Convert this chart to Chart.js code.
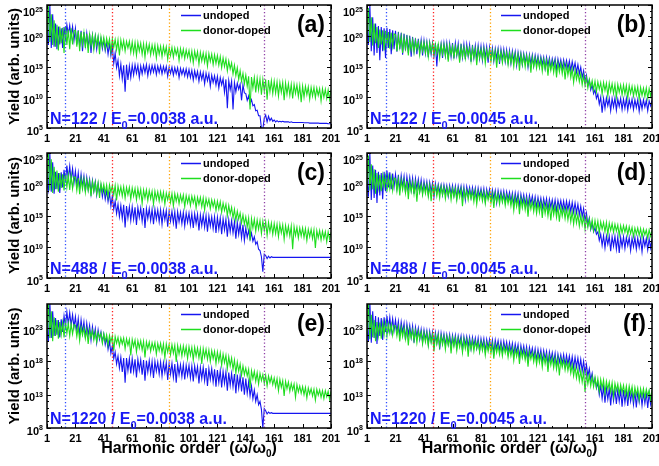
<!DOCTYPE html>
<html>
<head>
<meta charset="utf-8">
<script src="https://cdn.jsdelivr.net/npm/chart.js@4.4.1/dist/chart.umd.min.js"></script>
<style>
  html, body { margin: 0; padding: 0; background: #fff; }
  #wrap { position: relative; width: 659px; height: 466px; overflow: hidden; }
  canvas { position: absolute; }
</style>
</head>
<body>
<div id="wrap">
  <canvas id="pa" width="345" height="150" style="left:0;top:0"></canvas>
  <canvas id="pb" width="326" height="150" style="left:333px;top:0"></canvas>
  <canvas id="pc" width="345" height="154" style="left:0;top:146px"></canvas>
  <canvas id="pd" width="326" height="154" style="left:333px;top:146px"></canvas>
  <canvas id="pe" width="345" height="168" style="left:0;top:298px"></canvas>
  <canvas id="pf" width="326" height="168" style="left:333px;top:298px"></canvas>
</div>
<script>
// harmonic orders 1..201 (x categories)
var harmonics = Array.from({length: 201}, function (_, i) { return i + 1; });
var xTickLabels = [1, 21, 41, 61, 81, 101, 121, 141, 161, 181, 201];
var xMinorTicks = [11, 31, 51, 71, 91, 111, 131, 151, 171, 191];

// cutoff markers (harmonic order) and their colours
var cutoffs = [14, 47, 87, 154];
var cutoffColors = ['#2f4dff', '#ff2020', '#ffa000', '#8e3fa6'];

// y tick exponents
var yExpTop = [5, 10, 15, 20, 25];
var yExpBottom = [8, 13, 18, 23];

var panelLabels = ['(a)', '(b)', '(c)', '(d)', '(e)', '(f)'];
var panelN = ['122', '122', '488', '488', '1220', '1220'];
var panelE0 = ['0.0038', '0.0045', '0.0038', '0.0045', '0.0038', '0.0045'];
var seriesNames = ['undoped', 'donor-doped'];

// log10 of yield, one value per harmonic (1..201)
var logA_undoped = [
  20.0, 18.5, 25.0, 18.0, 23.5, 18.2, 22.0, 17.8, 21.5, 18.6, 21.2, 18.0, 21.4, 19.5, 21.8, 20.2, 21.7, 19.8, 21.5, 19.2,
  21.2, 18.6, 20.9, 18.2, 20.8, 17.5, 20.6, 18.4, 20.4, 18.0, 20.3, 17.2, 20.0, 18.1, 19.9, 17.8, 19.7, 18.3, 19.5, 17.9,
  19.3, 17.6, 19.0, 17.0, 18.7, 16.8, 18.3, 15.5, 17.2, 14.8, 16.0, 13.5, 15.4, 13.0, 15.2, 10.9, 15.3, 12.8, 15.1, 13.2,
  15.2, 13.6, 15.3, 13.9, 15.2, 13.2, 15.1, 13.8, 15.2, 14.0, 15.3, 13.5, 15.1, 13.9, 15.2, 14.1, 15.2, 13.7, 15.1, 14.0,
  15.1, 13.8, 15.0, 14.0, 15.0, 13.4, 14.9, 13.9, 14.9, 13.6, 14.8, 13.8, 14.8, 13.2, 14.7, 13.7, 14.6, 13.5, 14.6, 13.3,
  14.5, 13.2, 14.4, 12.8, 14.3, 13.1, 14.2, 12.6, 14.1, 12.9, 14.0, 12.2, 13.9, 12.7, 13.8, 11.8, 13.6, 12.4, 13.5, 12.0,
  13.4, 11.5, 13.2, 12.0, 13.0, 10.8, 12.9, 8.2, 12.7, 11.2, 12.6, 8.0, 12.4, 10.9, 12.3, 11.3, 12.1, 9.5, 12.0, 10.7,
  10.6, 9.5, 10.2, 9.0, 9.6, 8.6, 8.8, 7.8, 7.9, 7.0, 7.0, 5.0, 4.8, 6.6, 7.1, 6.0, 6.9, 6.2, 6.6, 6.1,
  6.3, 6.0, 6.2, 6.0, 6.1, 6.0, 6.1, 6.0, 6.0, 6.0, 6.0, 5.9, 6.0, 5.9, 5.9, 5.9, 5.9, 5.9, 5.9, 5.9,
  5.9, 5.85, 5.85, 5.85, 5.85, 5.8, 5.8, 5.8, 5.8, 5.8, 5.8, 5.8, 5.75, 5.75, 5.75, 5.75, 5.75, 5.75, 5.7, 5.7, 5.7
];
var logA_doped = [
  19.5, 24.8, 19.0, 23.5, 18.5, 22.5, 18.2, 21.8, 17.6, 21.5, 18.8, 21.3, 17.2, 21.4, 18.5, 21.0, 17.8, 21.2, 18.6, 20.8,
  20.9, 18.2, 20.8, 17.5, 20.6, 18.6, 20.5, 18.0, 20.3, 17.2, 20.2, 18.4, 20.1, 17.8, 20.0, 18.5, 19.9, 17.0, 19.8, 18.3,
  19.7, 17.9, 19.6, 18.3, 19.5, 17.4, 19.5, 18.1, 19.4, 17.7, 19.3, 16.8, 19.3, 17.9, 19.2, 17.5, 19.1, 18.0, 19.1, 17.3,
  19.0, 17.2, 18.9, 16.8, 18.9, 17.5, 18.8, 17.0, 18.7, 16.5, 18.7, 17.3, 18.6, 16.9, 18.5, 17.1, 18.5, 16.4, 18.4, 17.0,
  18.3, 16.6, 18.3, 17.0, 18.2, 16.2, 18.1, 16.8, 18.1, 16.5, 18.0, 16.9, 17.9, 16.0, 17.9, 16.6, 17.8, 16.3, 17.7, 16.5,
  17.6, 16.0, 17.5, 15.6, 17.5, 16.2, 17.4, 15.4, 17.3, 15.9, 17.2, 15.7, 17.1, 15.1, 17.1, 15.8, 17.0, 15.3, 16.9, 15.5,
  16.8, 15.2, 16.6, 14.8, 16.4, 15.0, 16.2, 14.3, 15.9, 14.6, 15.6, 13.8, 15.2, 13.5, 14.8, 12.9, 14.3, 12.6, 13.9, 12.2,
  13.6, 11.8, 13.4, 8.0, 13.3, 11.5, 13.2, 10.8, 13.1, 11.2, 13.0, 10.4, 12.9, 11.0, 12.9, 9.6, 12.8, 10.9, 12.7, 10.6,
  12.6, 10.7, 12.5, 10.2, 12.4, 10.8, 12.4, 9.5, 12.3, 10.5, 12.2, 10.3, 12.1, 9.8, 12.1, 10.6, 12.0, 10.1, 11.9, 9.2,
  11.8, 10.0, 11.8, 10.4, 11.7, 9.7, 11.6, 10.2, 11.6, 9.9, 11.5, 10.3, 11.4, 9.4, 11.4, 10.0, 11.3, 9.8, 11.2, 9.6, 11.2
];
var logB_undoped = [
  21.0, 18.5, 25.0, 17.5, 23.0, 16.8, 22.0, 17.2, 21.6, 16.0, 21.4, 17.5, 21.2, 16.4, 21.3, 18.0, 21.1, 17.0, 20.9, 17.8,
  20.8, 17.4, 20.6, 17.8, 20.5, 16.9, 20.3, 17.6, 20.1, 17.2, 20.0, 16.6, 19.8, 17.5, 19.6, 17.0, 19.5, 17.3, 19.3, 16.8,
  19.2, 17.1, 19.0, 16.5, 18.9, 17.0, 18.8, 16.7, 18.8, 15.0, 18.7, 16.9, 18.7, 16.4, 18.8, 16.8, 18.8, 16.2, 18.7, 16.6,
  18.8, 16.3, 18.8, 16.8, 18.7, 16.0, 18.7, 16.5, 18.6, 16.2, 18.6, 16.7, 18.5, 15.8, 18.5, 16.4, 18.4, 16.1, 18.4, 16.3,
  18.3, 16.0, 18.3, 16.4, 18.2, 15.6, 18.1, 16.2, 18.0, 15.9, 17.9, 16.3, 17.9, 15.4, 17.8, 16.0, 17.8, 15.8, 17.7, 15.7,
  17.6, 15.5, 17.5, 15.9, 17.4, 15.2, 17.3, 15.7, 17.2, 15.3, 17.1, 15.6, 17.0, 14.9, 16.9, 15.4, 16.9, 15.1, 16.8, 15.3,
  16.7, 15.0, 16.6, 15.3, 16.5, 14.7, 16.5, 15.1, 16.4, 14.8, 16.3, 15.2, 16.3, 14.5, 16.2, 14.9, 16.1, 14.6, 16.1, 14.8,
  16.0, 14.6, 15.9, 14.3, 15.8, 14.5, 15.6, 14.0, 15.3, 13.8, 14.9, 13.2, 14.3, 12.6, 13.6, 12.0, 12.8, 11.2, 12.0, 10.6,
  11.2, 9.8, 10.5, 8.9, 10.0, 7.5, 9.8, 8.2, 9.9, 8.6, 9.8, 7.8, 9.8, 8.4, 9.9, 7.9, 9.7, 8.5, 9.8, 8.0,
  9.7, 8.2, 9.8, 7.9, 9.6, 8.4, 9.7, 8.0, 9.6, 8.3, 9.6, 7.7, 9.5, 8.1, 9.6, 8.4, 9.5, 7.8, 9.4, 8.6, 9.5
];
var logB_doped = [
  20.0, 24.5, 19.0, 23.0, 18.4, 22.0, 18.8, 21.4, 18.0, 21.0, 18.6, 20.9, 17.6, 20.8, 18.5, 20.6, 17.9, 20.5, 18.3, 20.3,
  20.2, 17.5, 20.0, 18.1, 19.9, 17.2, 19.7, 17.9, 19.6, 16.8, 19.4, 17.7, 19.3, 17.3, 19.2, 17.8, 19.0, 16.9, 18.9, 17.5,
  18.9, 17.2, 18.8, 16.6, 18.8, 17.3, 18.7, 16.9, 18.6, 17.1, 18.6, 16.4, 18.5, 17.0, 18.5, 16.7, 18.4, 15.8, 18.4, 16.9,
  18.3, 16.5, 18.3, 16.9, 18.2, 15.6, 18.2, 16.6, 18.1, 16.3, 18.1, 16.8, 18.0, 15.9, 18.0, 16.5, 17.9, 15.2, 17.9, 16.4,
  17.8, 16.2, 17.8, 15.5, 17.7, 16.4, 17.7, 15.9, 17.6, 16.1, 17.5, 14.8, 17.5, 16.0, 17.4, 15.6, 17.3, 15.9, 17.3, 15.3,
  17.2, 15.6, 17.1, 15.0, 17.0, 15.5, 16.9, 14.3, 16.9, 15.3, 16.8, 14.9, 16.7, 15.2, 16.6, 14.0, 16.5, 15.0, 16.4, 14.7,
  16.3, 14.8, 16.2, 14.2, 16.1, 14.6, 16.0, 13.5, 15.9, 14.4, 15.8, 14.0, 15.7, 13.2, 15.6, 14.1, 15.5, 13.8, 15.4, 12.9,
  15.2, 13.6, 15.0, 13.2, 14.7, 12.4, 14.4, 12.9, 14.1, 12.5, 13.8, 12.0, 13.5, 11.9, 13.2, 11.5, 12.9, 11.6, 12.7, 11.2,
  12.6, 10.9, 12.5, 11.3, 12.4, 10.5, 12.4, 11.1, 12.3, 10.2, 12.3, 10.9, 12.2, 10.6, 12.1, 10.0, 12.1, 10.8, 12.0, 10.4,
  12.0, 10.5, 11.9, 9.9, 11.9, 10.6, 11.8, 10.2, 11.7, 10.4, 11.7, 9.7, 11.6, 10.3, 11.5, 10.1, 11.5, 9.8, 11.4, 10.2, 11.4
];
var logC_undoped = [
  20.0, 19.0, 25.0, 18.8, 23.5, 18.5, 22.0, 19.2, 21.8, 18.6, 21.9, 19.5, 22.3, 20.3, 23.0, 20.8, 22.9, 20.6, 22.5, 20.2,
  22.1, 19.8, 21.8, 19.3, 21.6, 19.6, 21.3, 18.9, 21.1, 19.2, 20.8, 18.5, 20.6, 18.9, 20.4, 18.3, 20.1, 18.6, 19.8, 18.0,
  19.4, 17.6, 19.0, 17.2, 18.6, 16.5, 18.1, 16.0, 17.3, 15.3, 16.8, 14.8, 16.6, 14.5, 16.7, 13.1, 16.5, 14.6, 16.4, 14.2,
  16.4, 14.4, 16.3, 13.5, 16.3, 14.7, 16.2, 14.1, 16.2, 13.0, 16.1, 14.5, 16.1, 14.2, 16.0, 13.6, 16.0, 14.4, 15.9, 14.0,
  15.9, 13.6, 15.8, 14.3, 15.8, 13.2, 15.7, 14.1, 15.7, 13.8, 15.6, 12.9, 15.6, 14.0, 15.5, 13.7, 15.5, 13.3, 15.4, 13.9,
  15.4, 13.5, 15.3, 13.0, 15.3, 13.7, 15.2, 12.6, 15.1, 13.4, 15.1, 13.1, 15.0, 12.4, 14.9, 13.3, 14.8, 12.9, 14.8, 12.2,
  14.7, 12.8, 14.6, 12.0, 14.5, 12.7, 14.4, 11.6, 14.3, 12.4, 14.2, 12.2, 14.0, 11.3, 13.9, 12.0, 13.7, 11.4, 13.5, 11.0,
  13.0, 11.5, 12.6, 11.2, 12.2, 10.9, 11.6, 10.4, 10.8, 9.6, 9.4, 8.4, 6.0, 8.8, 8.6, 8.1, 8.5, 8.2, 8.4, 8.3,
  8.3, 8.3, 8.3, 8.3, 8.3, 8.3, 8.3, 8.3, 8.3, 8.3, 8.3, 8.3, 8.3, 8.3, 8.3, 8.3, 8.3, 8.3, 8.3, 8.3,
  8.3, 8.3, 8.3, 8.3, 8.3, 8.3, 8.3, 8.3, 8.3, 8.3, 8.3, 8.3, 8.3, 8.3, 8.3, 8.3, 8.3, 8.3, 8.3, 8.3, 8.3
];
var logC_doped = [
  19.5, 25.0, 19.0, 24.0, 18.6, 22.8, 19.2, 22.2, 18.8, 21.8, 19.4, 21.6, 19.0, 21.7, 19.5, 21.5, 19.1, 21.4, 19.3, 21.2,
  21.1, 19.0, 21.0, 18.4, 20.9, 19.2, 20.8, 18.7, 20.7, 19.0, 20.5, 18.1, 20.4, 18.9, 20.3, 18.5, 20.2, 17.8, 20.1, 18.8,
  20.0, 18.5, 19.9, 18.0, 19.9, 18.7, 19.8, 18.3, 19.8, 17.4, 19.7, 18.4, 19.6, 18.1, 19.6, 17.8, 19.5, 18.3, 19.5, 17.6,
  19.4, 18.1, 19.3, 17.5, 19.3, 17.9, 19.2, 16.9, 19.1, 17.8, 19.1, 17.4, 19.0, 17.7, 18.9, 16.8, 18.9, 17.6, 18.8, 17.3,
  18.8, 17.4, 18.7, 16.8, 18.6, 17.5, 18.6, 17.1, 18.5, 16.5, 18.5, 17.3, 18.4, 16.9, 18.3, 17.2, 18.3, 16.4, 18.2, 17.0,
  18.1, 16.6, 18.1, 17.0, 18.0, 16.2, 17.9, 16.8, 17.9, 16.4, 17.8, 15.9, 17.7, 16.6, 17.6, 16.1, 17.5, 16.4, 17.4, 15.8,
  17.3, 16.0, 17.2, 15.5, 17.0, 15.8, 16.8, 15.0, 16.6, 15.2, 16.3, 14.6, 16.0, 14.2, 15.7, 14.4, 15.4, 13.8, 15.1, 13.6,
  14.8, 13.2, 14.6, 11.0, 14.5, 13.0, 14.4, 12.5, 14.3, 12.8, 14.2, 12.1, 14.1, 12.6, 14.0, 11.8, 13.9, 12.4, 13.8, 12.0,
  13.7, 12.1, 13.6, 11.6, 13.6, 12.2, 13.5, 11.2, 13.4, 11.9, 13.3, 11.7, 13.3, 9.6, 13.2, 11.8, 13.1, 11.4, 13.0, 11.7,
  13.0, 11.5, 12.9, 11.0, 12.8, 11.6, 12.8, 11.3, 12.7, 9.8, 12.6, 11.4, 12.6, 11.1, 12.5, 11.3, 12.4, 10.8, 12.4, 11.2, 12.3
];
var logD_undoped = [
  20.5, 18.0, 25.0, 17.5, 23.0, 17.8, 22.3, 17.0, 22.0, 18.2, 21.8, 17.6, 22.0, 18.9, 22.2, 19.5, 21.9, 19.2, 21.7, 19.6,
  21.6, 19.4, 21.5, 19.0, 21.4, 19.6, 21.3, 18.7, 21.2, 19.3, 21.1, 19.1, 21.0, 18.5, 20.9, 19.2, 20.8, 18.9, 20.7, 18.6,
  20.5, 18.9, 20.4, 18.4, 20.3, 18.8, 20.2, 18.0, 20.1, 18.6, 20.0, 18.7, 19.9, 18.3, 19.9, 18.5, 19.8, 18.1, 19.8, 18.4,
  19.8, 18.2, 19.7, 17.8, 19.7, 18.4, 19.7, 18.0, 19.6, 17.5, 19.6, 18.3, 19.5, 17.9, 19.5, 18.1, 19.4, 17.6, 19.4, 18.0,
  19.3, 17.8, 19.3, 17.3, 19.2, 17.9, 19.2, 17.5, 19.1, 17.7, 19.0, 17.0, 19.0, 17.6, 18.9, 17.4, 18.9, 17.2, 18.8, 17.5,
  18.7, 17.2, 18.6, 16.8, 18.6, 17.1, 18.5, 16.5, 18.4, 17.0, 18.3, 16.7, 18.2, 16.4, 18.2, 16.9, 18.1, 16.6, 18.0, 16.3,
  17.9, 16.5, 17.8, 16.1, 17.7, 16.4, 17.7, 15.8, 17.6, 16.3, 17.5, 16.0, 17.5, 15.7, 17.4, 16.2, 17.4, 15.9, 17.3, 15.8,
  17.3, 15.9, 17.2, 15.6, 17.1, 15.5, 17.0, 15.4, 16.8, 15.1, 16.5, 14.8, 16.1, 14.2, 15.4, 13.5, 14.6, 12.8, 13.8, 12.4,
  13.0, 12.0, 12.4, 11.0, 12.0, 10.2, 11.8, 9.8, 11.7, 10.4, 11.7, 9.3, 11.6, 10.1, 11.7, 9.6, 11.6, 9.0, 11.5, 10.0,
  11.6, 9.7, 11.5, 10.2, 11.5, 9.4, 11.4, 10.0, 11.5, 9.6, 11.4, 9.9, 11.3, 9.2, 11.4, 10.1, 11.3, 9.5, 11.3, 9.8, 11.2
];
var logD_doped = [
  19.8, 24.6, 19.0, 23.2, 19.2, 22.4, 18.5, 21.8, 19.4, 21.5, 18.9, 21.4, 19.6, 21.3, 18.8, 21.2, 19.3, 21.1, 19.0, 21.0,
  20.9, 18.9, 20.8, 18.2, 20.7, 19.1, 20.6, 18.6, 20.5, 17.6, 20.4, 18.8, 20.3, 18.4, 20.2, 17.2, 20.1, 18.7, 20.0, 18.3,
  19.9, 18.5, 19.9, 18.0, 19.8, 17.3, 19.7, 18.4, 19.7, 18.1, 19.6, 17.8, 19.6, 18.3, 19.5, 17.7, 19.4, 18.2, 19.4, 17.5,
  19.3, 18.0, 19.3, 17.4, 19.2, 17.9, 19.2, 16.5, 19.1, 17.8, 19.0, 17.5, 19.0, 17.7, 18.9, 17.2, 18.9, 16.8, 18.8, 17.6,
  18.8, 17.3, 18.7, 16.9, 18.7, 17.5, 18.6, 17.0, 18.5, 16.2, 18.5, 17.2, 18.4, 16.8, 18.4, 17.1, 18.3, 16.6, 18.2, 16.9,
  18.1, 16.5, 18.0, 15.8, 17.9, 16.4, 17.8, 15.2, 17.7, 16.2, 17.6, 15.9, 17.5, 14.8, 17.4, 16.0, 17.3, 15.6, 17.2, 15.3,
  17.1, 15.5, 17.0, 14.6, 16.9, 15.3, 16.8, 14.9, 16.7, 14.2, 16.6, 15.1, 16.5, 14.7, 16.4, 14.0, 16.3, 14.9, 16.2, 14.5,
  16.1, 14.3, 15.9, 14.0, 15.7, 13.6, 15.5, 13.8, 15.2, 13.3, 15.0, 13.5, 14.8, 12.8, 14.6, 13.1, 14.4, 12.9, 14.3, 12.6,
  14.2, 12.7, 14.1, 12.2, 14.0, 12.8, 13.9, 12.4, 13.9, 11.9, 13.8, 12.6, 13.7, 12.3, 13.6, 12.5, 13.5, 11.8, 13.4, 12.2,
  13.4, 12.3, 13.3, 11.9, 13.2, 12.1, 13.1, 11.6, 13.0, 12.0, 13.0, 11.8, 12.9, 11.5, 12.8, 11.9, 12.7, 11.4, 12.7, 11.7, 12.6
];
var logE_undoped = [
  22.5, 21.0, 27.0, 21.5, 25.5, 21.8, 24.5, 22.0, 24.2, 21.6, 24.3, 22.4, 24.8, 23.2, 25.4, 23.6, 25.3, 23.4, 25.0, 23.1,
  24.7, 22.6, 24.4, 21.9, 24.2, 22.3, 23.9, 21.6, 23.7, 21.9, 23.4, 21.2, 23.2, 21.6, 22.9, 20.8, 22.7, 21.3, 22.4, 20.9,
  22.1, 20.5, 21.6, 19.8, 21.0, 19.2, 20.3, 18.4, 19.4, 17.6, 18.8, 17.0, 18.6, 16.4, 18.5, 14.8, 18.5, 16.6, 18.4, 16.2,
  18.4, 16.5, 18.3, 15.6, 18.3, 16.7, 18.2, 16.0, 18.2, 15.1, 18.1, 16.4, 18.1, 16.2, 18.0, 15.5, 18.0, 16.5, 17.9, 16.1,
  17.9, 15.8, 17.8, 16.3, 17.8, 15.2, 17.7, 16.1, 17.7, 15.6, 17.6, 14.8, 17.6, 16.0, 17.5, 15.7, 17.5, 15.3, 17.4, 15.9,
  17.4, 15.5, 17.3, 15.0, 17.3, 15.8, 17.2, 14.7, 17.1, 15.4, 17.1, 15.1, 17.0, 14.3, 16.9, 15.3, 16.9, 14.9, 16.8, 14.2,
  16.7, 14.8, 16.6, 14.1, 16.5, 14.7, 16.4, 13.6, 16.3, 14.4, 16.2, 14.2, 16.1, 13.2, 16.0, 14.0, 15.8, 13.5, 15.6, 13.0,
  15.4, 13.2, 14.9, 12.8, 14.3, 12.4, 13.7, 12.0, 13.0, 11.5, 12.0, 10.8, 8.0, 10.9, 10.6, 10.1, 10.4, 10.2, 10.3, 10.2,
  10.2, 10.2, 10.2, 10.2, 10.2, 10.2, 10.2, 10.2, 10.2, 10.2, 10.2, 10.2, 10.2, 10.2, 10.2, 10.2, 10.2, 10.2, 10.2, 10.2,
  10.2, 10.2, 10.2, 10.2, 10.2, 10.2, 10.2, 10.2, 10.2, 10.2, 10.2, 10.2, 10.2, 10.2, 10.2, 10.2, 10.2, 10.2, 10.2, 10.2, 10.2
];
var logE_doped = [
  22.0, 27.0, 21.5, 25.5, 21.0, 24.6, 21.8, 24.2, 21.4, 23.9, 22.0, 23.8, 21.6, 23.9, 22.2, 23.7, 21.8, 23.6, 22.1, 23.5,
  23.4, 21.7, 23.2, 21.1, 23.1, 21.9, 23.0, 21.4, 22.8, 20.6, 22.7, 21.6, 22.6, 21.2, 22.4, 20.9, 22.3, 21.5, 22.2, 20.7,
  22.1, 21.0, 22.0, 20.4, 21.9, 20.9, 21.8, 19.6, 21.7, 20.7, 21.6, 20.3, 21.5, 20.6, 21.5, 19.9, 21.4, 20.4, 21.3, 18.9,
  21.3, 20.2, 21.2, 19.4, 21.1, 20.0, 21.1, 19.7, 21.0, 18.6, 20.9, 19.9, 20.9, 19.5, 20.8, 19.8, 20.8, 19.1, 20.7, 19.6,
  20.7, 19.3, 20.6, 18.5, 20.6, 19.4, 20.5, 19.0, 20.5, 19.2, 20.4, 17.9, 20.4, 19.1, 20.3, 18.8, 20.3, 19.0, 20.2, 18.4,
  20.2, 18.9, 20.1, 18.2, 20.1, 18.8, 20.0, 18.5, 19.9, 17.6, 19.9, 18.6, 19.8, 18.3, 19.7, 18.0, 19.6, 18.4, 19.5, 17.7,
  19.4, 18.0, 19.3, 17.4, 19.1, 17.8, 18.9, 16.9, 18.7, 17.3, 18.5, 16.8, 18.2, 16.2, 17.9, 16.5, 17.6, 15.9, 17.3, 16.0,
  17.0, 15.8, 16.8, 14.0, 16.6, 15.4, 16.5, 15.0, 16.3, 14.6, 16.2, 15.1, 16.0, 14.7, 15.9, 14.3, 15.8, 14.8, 15.7, 14.5,
  15.5, 14.2, 15.4, 13.6, 15.3, 14.1, 15.1, 12.8, 15.0, 13.9, 14.9, 13.5, 14.7, 13.7, 14.6, 12.6, 14.5, 13.4, 14.3, 13.2,
  14.2, 13.0, 14.1, 12.5, 14.0, 13.1, 13.9, 12.8, 13.8, 12.2, 13.8, 12.9, 13.7, 12.6, 13.6, 12.4, 13.6, 12.7, 13.5, 12.3, 13.5
];
var logF_undoped = [
  22.5, 21.0, 27.0, 20.8, 25.5, 21.5, 24.8, 20.6, 24.6, 21.8, 24.5, 21.2, 24.6, 22.4, 24.8, 22.8, 24.6, 22.5, 24.4, 22.6,
  24.2, 22.4, 24.0, 21.8, 23.9, 22.3, 23.7, 21.2, 23.6, 22.0, 23.4, 21.6, 23.3, 20.8, 23.1, 21.7, 23.0, 21.3, 22.8, 20.9,
  22.7, 21.2, 22.6, 20.6, 22.5, 21.0, 22.4, 20.3, 22.3, 20.8, 22.2, 19.8, 22.2, 20.7, 22.1, 20.4, 22.0, 20.6, 22.0, 20.2,
  21.9, 20.5, 21.9, 20.1, 21.8, 20.6, 21.8, 19.7, 21.7, 20.4, 21.7, 20.2, 21.6, 19.9, 21.6, 20.3, 21.5, 20.0, 21.5, 19.6,
  21.4, 20.1, 21.4, 19.5, 21.3, 20.0, 21.3, 19.8, 21.2, 19.2, 21.2, 19.9, 21.1, 19.6, 21.0, 19.4, 21.0, 19.7, 20.9, 19.3,
  20.8, 19.4, 20.7, 19.0, 20.6, 19.3, 20.5, 18.6, 20.4, 19.1, 20.3, 18.8, 20.2, 18.3, 20.1, 18.9, 20.0, 18.5, 19.9, 18.2,
  19.8, 18.4, 19.7, 17.9, 19.6, 18.3, 19.5, 17.5, 19.4, 18.1, 19.3, 17.8, 19.2, 17.2, 19.1, 17.9, 19.0, 17.6, 19.0, 17.4,
  18.9, 17.5, 18.8, 17.2, 18.7, 17.0, 18.6, 17.1, 18.5, 16.8, 18.3, 16.5, 18.0, 16.2, 17.5, 15.8, 16.9, 15.2, 16.2, 14.6,
  15.4, 14.0, 14.8, 13.0, 14.4, 12.4, 14.2, 11.8, 14.0, 12.3, 13.9, 11.4, 13.9, 12.1, 13.8, 11.6, 13.8, 12.0, 13.7, 11.2,
  13.7, 11.8, 13.6, 11.3, 13.6, 12.0, 13.5, 11.5, 13.5, 11.1, 13.4, 11.9, 13.4, 11.4, 13.3, 11.7, 13.3, 11.0, 13.2, 11.6, 13.2
];
var logF_doped = [
  22.0, 27.0, 21.3, 25.0, 21.6, 24.2, 21.0, 23.9, 21.8, 23.8, 21.4, 23.7, 22.0, 23.8, 21.7, 23.6, 22.2, 23.5, 21.9, 23.4,
  23.3, 21.8, 23.2, 21.0, 23.1, 21.7, 23.0, 21.3, 22.9, 20.4, 22.8, 21.5, 22.7, 21.1, 22.6, 20.8, 22.5, 21.4, 22.4, 20.6,
  22.3, 20.9, 22.2, 20.3, 22.1, 20.8, 22.0, 19.5, 21.9, 20.6, 21.9, 20.2, 21.8, 20.5, 21.7, 19.8, 21.7, 20.4, 21.6, 19.2,
  21.5, 20.2, 21.5, 19.6, 21.4, 20.1, 21.3, 19.3, 21.3, 19.9, 21.2, 18.7, 21.1, 19.8, 21.1, 19.5, 21.0, 19.9, 20.9, 19.4,
  20.9, 19.6, 20.8, 18.9, 20.7, 19.5, 20.7, 19.2, 20.6, 18.4, 20.5, 19.3, 20.4, 19.0, 20.4, 18.8, 20.3, 19.2, 20.2, 18.6,
  20.1, 18.8, 20.0, 18.1, 19.9, 18.7, 19.8, 17.6, 19.7, 18.5, 19.6, 18.2, 19.5, 17.2, 19.4, 18.3, 19.3, 17.9, 19.2, 17.5,
  19.1, 17.8, 19.0, 17.1, 18.9, 17.6, 18.8, 16.4, 18.7, 17.4, 18.6, 17.0, 18.5, 16.8, 18.4, 15.9, 18.3, 17.1, 18.2, 16.7,
  18.0, 16.6, 17.8, 16.2, 17.5, 15.8, 17.2, 15.5, 16.9, 15.1, 16.6, 14.9, 16.4, 13.4, 16.1, 14.6, 15.9, 14.3, 15.7, 14.2,
  15.6, 14.1, 15.4, 13.5, 15.3, 14.0, 15.2, 13.2, 15.0, 13.8, 14.9, 13.4, 14.8, 12.7, 14.7, 13.6, 14.6, 13.1, 14.5, 13.3,
  14.4, 13.0, 14.3, 12.6, 14.3, 13.1, 14.2, 12.4, 14.1, 12.9, 14.0, 12.2, 13.9, 12.7, 13.9, 12.5, 13.8, 12.8, 13.7, 12.3, 13.7
];

var FONT = '"Liberation Sans", Arial, sans-serif';
var BLUE = 'rgb(22,22,240)';
var GREEN = 'rgb(30,222,30)';

function toPoints(logs) {
  return logs.map(function (v, i) { return {x: harmonics[i], y: Math.pow(10, v)}; });
}

function line(ctx, x1, y1, x2, y2) {
  ctx.beginPath(); ctx.moveTo(x1, y1); ctx.lineTo(x2, y2); ctx.stroke();
}

var deco = {
  id: 'deco',
  afterDatasetsDraw: function (chart, args, o) {
    var ctx = chart.ctx, a = chart.chartArea, x = chart.scales.x;
    ctx.save();
    ctx.lineWidth = 1.3;
    ctx.setLineDash([1.3, 2.2]);
    cutoffs.forEach(function (h, i) {
      var px = Math.round(x.getPixelForValue(h)) + 0.5;
      ctx.strokeStyle = cutoffColors[i];
      line(ctx, px, a.top, px, a.bottom);
    });
    ctx.restore();
  },
  afterDraw: function (chart, args, o) {
    var ctx = chart.ctx, a = chart.chartArea, x = chart.scales.x, y = chart.scales.y;
    ctx.save();
    ctx.strokeStyle = '#000';
    ctx.fillStyle = '#000';
    ctx.lineWidth = 1.5;
    ctx.strokeRect(a.left, a.top, a.right - a.left, a.bottom - a.top);

    // x ticks (inward, top and bottom)
    ctx.lineWidth = 1;
    xTickLabels.forEach(function (v) {
      var px = Math.round(x.getPixelForValue(v)) + 0.5;
      line(ctx, px, a.bottom, px, a.bottom - 4);
      line(ctx, px, a.top, px, a.top + 4);
    });
    xMinorTicks.forEach(function (v) {
      var px = Math.round(x.getPixelForValue(v)) + 0.5;
      line(ctx, px, a.bottom, px, a.bottom - 2);
      line(ctx, px, a.top, px, a.top + 2);
    });
    // y ticks: every decade, majors longer
    for (var d = o.yMin; d <= o.yMaxInt; d++) {
      var py = Math.round(y.getPixelForValue(Math.pow(10, d))) + 0.5;
      var len = o.yMajor.indexOf(d) >= 0 ? 4 : 2;
      line(ctx, a.left, py, a.left + len, py);
      line(ctx, a.right, py, a.right - len, py);
    }

    // x tick labels
    ctx.font = 'bold 11px ' + FONT;
    ctx.textAlign = 'center';
    ctx.textBaseline = 'alphabetic';
    xTickLabels.forEach(function (v) {
      ctx.fillText(String(v), x.getPixelForValue(v), a.bottom + 14);
    });

    // y tick labels 10^n
    o.yMajor.forEach(function (d) {
      var py = y.getPixelForValue(Math.pow(10, d));
      var cy = Math.max(py + 2.5, a.top + 7);
      var xr = a.left - 4;
      ctx.textAlign = 'right';
      ctx.font = 'bold 7px ' + FONT;
      var ws = ctx.measureText(String(d)).width;
      ctx.fillText(String(d), xr, cy - 0.5);
      ctx.font = 'bold 11px ' + FONT;
      ctx.fillText('10', xr - ws, cy + 4);
    });

    // y title
    if (o.yTitle) {
      ctx.save();
      ctx.translate(a.left - 32, (a.top + a.bottom) / 2);
      ctx.rotate(-Math.PI / 2);
      ctx.font = 'bold 15px ' + FONT;
      ctx.textAlign = 'center';
      ctx.textBaseline = 'middle';
      ctx.fillText('Yield (arb. units)', 0, 0);
      ctx.restore();
    }

    // x title
    if (o.xTitle) {
      ctx.font = 'bold 16px ' + FONT;
      var t1 = 'Harmonic order  (\u03c9/\u03c9';
      var w1 = ctx.measureText(t1).width;
      ctx.font = 'bold 10px ' + FONT;
      var w2 = ctx.measureText('0').width;
      ctx.font = 'bold 16px ' + FONT;
      var w3 = ctx.measureText(')').width;
      var cx = (a.left + a.right) / 2 - (w1 + w2 + w3) / 2;
      var by = a.bottom + 25;
      ctx.textAlign = 'left';
      ctx.fillText(t1, cx, by);
      ctx.font = 'bold 10px ' + FONT;
      ctx.fillText('0', cx + w1, by + 4);
      ctx.font = 'bold 16px ' + FONT;
      ctx.fillText(')', cx + w1 + w2, by);
    }

    // legend
    var lx = a.left + 134;
    [[BLUE, seriesNames[0], a.top + 10.5], [GREEN, seriesNames[1], a.top + 25.5]].forEach(function (it) {
      ctx.strokeStyle = it[0];
      ctx.lineWidth = 1.5;
      line(ctx, lx, it[2], lx + 20, it[2]);
      ctx.fillStyle = '#000';
      ctx.font = 'bold 11px ' + FONT;
      ctx.textAlign = 'left';
      ctx.textBaseline = 'middle';
      ctx.fillText(it[1], lx + 22, it[2] + 0.5);
    });

    // panel label
    ctx.font = 'bold 23px ' + FONT;
    ctx.textAlign = 'right';
    ctx.textBaseline = 'middle';
    ctx.fillStyle = '#000';
    ctx.fillText(o.label, a.right - 6, a.top + 21);

    // N / E0 note
    ctx.fillStyle = 'rgb(25,25,245)';
    ctx.textAlign = 'left';
    ctx.textBaseline = 'alphabetic';
    var nx = a.left + 3, ny = a.bottom - 4;
    var s1 = 'N=' + o.n + ' / E';
    ctx.font = 'bold 16px ' + FONT;
    ctx.fillText(s1, nx, ny);
    nx += ctx.measureText(s1).width;
    ctx.font = 'bold 11px ' + FONT;
    ctx.fillText('0', nx, ny + 5);
    nx += ctx.measureText('0').width;
    ctx.font = 'bold 16px ' + FONT;
    ctx.fillText('=' + o.e0 + ' a.u.', nx, ny);
    ctx.restore();
  }
};

function makePanel(id, idx, undoped, doped, yRange, yMajor, pad, yTitle, xTitle) {
  new Chart(document.getElementById(id), {
    type: 'line',
    data: {
      datasets: [
        {label: seriesNames[0], data: toPoints(undoped), borderColor: BLUE, borderWidth: 1.1, pointRadius: 0, order: 2},
        {label: seriesNames[1], data: toPoints(doped), borderColor: GREEN, borderWidth: 1.1, pointRadius: 0, order: 1}
      ]
    },
    options: {
      responsive: false,
      animation: false,
      events: [],
      layout: {padding: pad},
      scales: {
        x: {type: 'linear', min: 1, max: 201, display: false},
        y: {type: 'logarithmic', min: Math.pow(10, yRange[0]), max: Math.pow(10, yRange[1]), display: false}
      },
      plugins: {
        legend: {display: false},
        tooltip: {enabled: false},
        deco: {
          label: panelLabels[idx], n: panelN[idx], e0: panelE0[idx],
          yMin: yRange[0], yMaxInt: Math.floor(yRange[1]), yMajor: yMajor,
          yTitle: yTitle, xTitle: xTitle
        }
      }
    },
    plugins: [deco]
  });
}

var padL = {left: 47, right: 14}, padR = {left: 34, right: 7};
makePanel('pa', 0, logA_undoped, logA_doped, [5, 25], yExpTop, {left: padL.left, right: padL.right, top: 5, bottom: 22}, true, false);
makePanel('pb', 1, logB_undoped, logB_doped, [5, 25], yExpTop, {left: padR.left, right: padR.right, top: 5, bottom: 22}, false, false);
makePanel('pc', 2, logC_undoped, logC_doped, [5, 25], yExpTop, {left: padL.left, right: padL.right, top: 7, bottom: 22}, true, false);
makePanel('pd', 3, logD_undoped, logD_doped, [5, 25], yExpTop, {left: padR.left, right: padR.right, top: 7, bottom: 22}, false, false);
makePanel('pe', 4, logE_undoped, logE_doped, [8, 26.6], yExpBottom, {left: padL.left, right: padL.right, top: 6, bottom: 38}, true, true);
makePanel('pf', 5, logF_undoped, logF_doped, [8, 26.6], yExpBottom, {left: padR.left, right: padR.right, top: 6, bottom: 38}, false, true);
</script>
</body>
</html>
